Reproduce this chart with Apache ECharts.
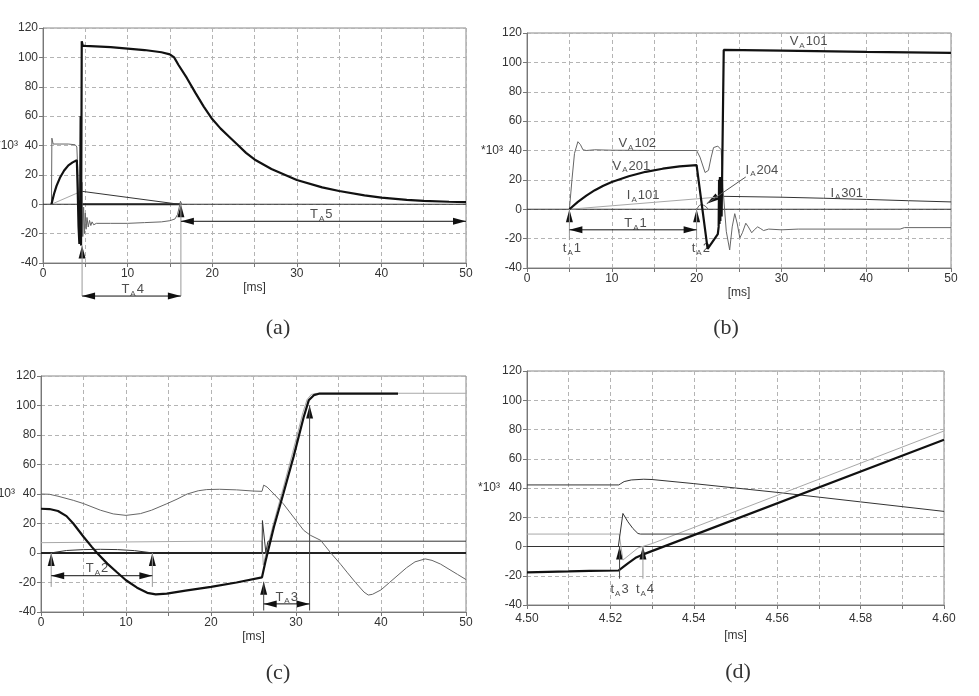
<!DOCTYPE html>
<html><head><meta charset="utf-8">
<script src="https://cdn.jsdelivr.net/npm/echarts/dist/echarts.min.js"></script>
<style>html,body{margin:0;padding:0;background:#fff}#c{width:979px;height:696px}</style>
</head><body><div id="c"></div>
<script>
// ---------- tick labels ----------
const yTicks = { min: -40, max: 120, step: 20 };
const xTicksABC = { min: 0, max: 50, step: 5, labelStep: 10 };
const xTicksD = { min: 4.50, max: 4.60, step: 0.01, labelStep: 0.02 };
const panelNames = ['(a)', '(b)', '(c)', '(d)'];
const xName = '[ms]';
const yName = '*10³';

// ---------- panel (a) ----------
const aZero = [[0,0],[50,0]];
const aZeroHeavy = [[4.6,0],[16.2,0]];
const aRamp = [[1,0],[4.4,8.5]];
const aDecline = [[4.6,8.8],[16.1,0]];
const aGray = [[1,0],[1.05,45],[1.2,41],[2,41],[3,41],[3.8,40.5],[4.0,39],[4.1,25],[4.2,0],[4.3,-25],[4.4,3],[4.5,-28],[4.6,15],[4.7,-22],[4.8,-2],[4.9,-20],[5.0,-6],[5.1,-17],[5.2,-9],[5.35,-15.5],[5.5,-11],[5.65,-14.5],[5.8,-12],[6,-14],[6.3,-13],[8,-13],[10,-13],[12,-12.5],[14,-12],[15,-11.2],[15.6,-10],[15.9,-7],[16.1,-2],[16.25,2],[16.4,0]];
const aThick = [[1,0],[1.3,7],[1.6,12.5],[2,18],[2.5,23],[3,26.5],[3.5,28.5],[4,30],[4.1,10],[4.2,-15],[4.3,-27],[4.38,-10],[4.45,60],[4.5,-28],[4.58,111],[4.7,108],[5,107.8],[8,107],[10,106],[12,105],[14,103.5],[15,102],[15.5,100],[16,95],[17,86],[18,76],[19,66.5],[20,58],[21,51.5],[22,46],[23,40.5],[24,35],[25,30.5],[27,24],[30,16.5],[33,11.5],[35,9],[38,6],[40,4.5],[43,3],[45,2.3],[48,1.7],[50,1.5]];
const aArrows = [ // [x1,y1,x2,y2,kind]
  [4.62,-62.5,4.62,-28,'ref'],[16.3,-62.5,16.3,0,'ref'],
  [4.62,-62.5,16.3,-62.5,'dim'],[16.3,-11.6,50,-11.6,'dim']
];
const aLabels = [[10.6,-58.2,'T|A|4'],[32.9,-7,'T|A|5']];

// ---------- panel (b) ----------
const bZero = [[0,0],[50,0]];
const bV201 = [[5,0],[6,5],[7,9.3],[8,13],[9,16],[10,18.5],[12,22.5],[14,25.5],[16,27.6],[18,29.2],[20,30],[20.2,29.5],[21.3,-27],[22.5,-17],[22.6,-12],[22.65,20],[22.7,-10],[22.75,22],[22.8,-8],[22.85,15],[22.95,-5],[23.2,108.5],[30,108],[40,107.2],[50,106.5]];
const bV102 = [[5,0],[5.3,20],[5.6,38],[6,46],[6.3,44],[6.6,40.5],[7,40],[8,40.5],[10,40.2],[15,40],[20,40],[20.4,35.5],[21.0,25],[21.4,26.5],[21.7,35],[22,42],[22.5,43],[22.9,40.5],[23.1,15],[23.5,-15],[23.9,-27.7],[24.2,-12],[24.5,-3],[24.8,-10],[25.1,-19.5],[25.4,-16],[25.8,-9.5],[26.1,-12],[26.5,-16],[26.8,-14],[27.2,-12],[27.5,-13],[27.9,-14.5],[28.5,-13.5],[30,-14],[32,-13.5],[40,-13.5],[44,-13.5],[44.5,-12.5],[50,-12.5]];
const bI101 = [[5,0],[22.8,8.4]];
const bI301 = [[23,8.8],[30,8.2],[35,7.5],[40,6.7],[45,5.8],[50,5]];
const bI204 = [[20,0],[20.3,2.5],[20.6,3.4],[21,2.2],[21.4,0]];
const bArrows = [
  [5,-21,5,0,'ref'],[20,-21,20,0,'ref'],[5,-14,20,-14,'dim'],[25.8,22,21.2,3.8,'lead']
];
const bLabels = [[33.2,114,'V|A|101'],[13,44.8,'V|A|102'],[12.3,29.3,'V|A|201'],[13.7,9.3,'I|A|101'],[27.7,26.6,'I|A|204'],[37.7,11,'I|A|301'],[12.8,-9.8,'T|A|1'],[5.3,-27,'t|A|1'],[20.5,-27,'t|A|2']];

// ---------- panel (c) ----------
const cZero = [[0,0],[50,0]];
const cHump = [[1.1,0],[3,1.7],[5,2.3],[7,2.5],[9,2.3],[11,1.6],[13.2,0]];
const cLight = [[0,7],[10,7.5],[20,8],[26,8],[26.15,-8],[26.4,-2],[27.3,19],[28.4,42],[29.6,68],[30.8,95],[31.3,104],[31.8,107.5],[32.5,108.3],[50,108.3]];
const cSpike = [[26,0],[26.05,22],[26.45,0.5],[26.7,8],[50,8]];
const cThin = [[0,40],[1,39.8],[2,38.5],[3.8,35.7],[5,33.5],[7,29],[8.5,26.5],[10,25.5],[11.7,26.7],[13,29],[14.8,33.4],[16,36.5],[17.2,40],[18.5,42.2],[19.5,43],[21,43.2],[23,42.8],[25,42],[26,41.8],[26.2,46],[26.6,44.7],[27.4,40],[28.5,33.4],[29.7,24.4],[30.9,15.4],[31.7,12],[32.9,8.6],[34.1,0],[35.3,-8],[36,-13],[37,-20],[38,-26.5],[38.5,-28.5],[39,-28],[40,-25],[41,-20],[42,-15],[43,-10],[44,-6],[45.2,-4],[46,-5],[47,-7.5],[48,-11],[49,-14.5],[50,-18]];
const cThick = [[0,30],[1,29.8],[2,28.5],[3,25],[3.8,20],[5,11],[6,4],[6.6,0],[7.8,-7.2],[8.9,-12.9],[10,-18.5],[11.3,-23.5],[12.5,-27],[13.5,-28],[14.8,-27.6],[17,-25.5],[20,-23],[23,-20],[26,-16.5],[26.1,-16.3],[26.4,-6],[27.4,17.6],[28.5,40],[29.7,65],[30.9,92],[31.5,103.5],[32.1,107],[32.7,108],[42,108]];
const cArrows = [
  [1.2,-23,1.2,0,'ref'],[13.1,-23,13.1,0,'ref'],[1.2,-15.4,13.1,-15.4,'dim'],
  [26.2,-39,26.2,-19.5,'refDark'],[31.6,-39,31.6,100,'refDark'],[26.2,-34.5,31.6,-34.5,'dim']
];
const cLabels = [[6.6,-10.6,'T|A|2'],[28.9,-30,'T|A|3']];

// ---------- panel (d) ----------
const dZero = [[4.5,0],[4.6,0]];
const dDark42 = [[4.5,42.1],[4.522,42.1],[4.5225,43],[4.5233,44.4],[4.525,45.5],[4.528,46],[4.53,45.8],[4.54,43],[4.56,37],[4.58,30.5],[4.6,24]];
const dLight = [[4.5,8.5],[4.5221,8.5],[4.523,-9.3],[4.5266,-1],[4.53,2],[4.6,79]];
const dSpike = [[4.5219,0],[4.523,22.6],[4.5242,16.9],[4.5254,12.3],[4.5266,8.9],[4.5272,8.5],[4.6,8.5]];
const dThick = [[4.5,-17.7],[4.51,-17],[4.515,-16.6],[4.522,-16.4],[4.5222,-15.7],[4.5242,-11.5],[4.5262,-7.5],[4.5274,-5.9],[4.6,73]];
const dArrows = [[4.5222,-22,4.5222,0,'refDark'],[4.5278,-22,4.5278,0,'ref']];
const dLabels = [[4.5222,-29.3,'t|A|3'],[4.5283,-29.3,'t|A|4']];

// ================= rendering =================
const FONT = '"Liberation Sans", Arial, sans-serif';
const gridBoxes = [
  {left:43, top:28, width:423, height:235},
  {left:527, top:33, width:424, height:235},
  {left:41, top:376, width:425, height:236},
  {left:527, top:371, width:417, height:234}
];
const xTickSets = [xTicksABC, xTicksABC, xTicksABC, xTicksD];
const grids = gridBoxes.map(g => Object.assign({}, g, {show:true, borderColor:'#888', borderWidth:1,
  backgroundColor:'transparent', containLabel:false, outerBoundsMode:'none'}));

function xAx(i, t, dec, margin, gap) {
  return {
    gridIndex:i, type:'value', min:t.min, max:t.max, interval:t.step,
    name:xName, nameLocation:'middle', nameGap:gap, nameMoveOverlap:false,
    nameTextStyle:{fontFamily:FONT, fontSize:12, color:'#333'},
    axisLine:{onZero:false, lineStyle:{color:'#777'}},
    axisTick:{show:true, inside:false, length:4, lineStyle:{color:'#777'}},
    axisLabel:{margin, fontFamily:FONT, fontSize:12, color:'#333',
      formatter: v => { const k = Math.round(v / t.step); const r = Math.round(t.labelStep / t.step);
        return k % r === 0 ? (dec ? v.toFixed(dec) : String(Math.round(v))) : ''; }},
    splitLine:{show:true, lineStyle:{type:[4,3], color:'#b4b4b4', width:1}}
  };
}
function yAx(i, gap) {
  return {
    gridIndex:i, type:'value', min:yTicks.min, max:yTicks.max, interval:yTicks.step,
    name:yName, nameLocation:'middle', nameRotate:0, nameGap:gap, nameMoveOverlap:false,
    nameTextStyle:{fontFamily:FONT, fontSize:12, color:'#333'},
    axisLine:{onZero:false, lineStyle:{color:'#777'}},
    axisTick:{show:true, inside:false, length:4, lineStyle:{color:'#777'}},
    axisLabel:{margin:5, fontFamily:FONT, fontSize:12, color:'#333'},
    splitLine:{show:true, lineStyle:{type:[4,3], color:'#b4b4b4', width:1}}
  };
}

const STY = {
  thick:{color:'#111', width:2.2}, heavyZero:{color:'#222', width:2},
  dark:{color:'#333', width:1}, gray:{color:'#666', width:1}, light:{color:'#a8a8a8', width:1},
  arrow:{color:'#111', width:1}, refLine:{color:'#9a9a9a', width:1}, refDark:{color:'#444', width:1}, lead:{color:'#555', width:1}
};
function ln(gi, data, s, noClip) {
  const st = STY[s];
  return {type:'line', xAxisIndex:gi, yAxisIndex:gi, data, showSymbol:false, symbol:'none', clip:!noClip,
    lineStyle:{color:st.color, width:st.width}, itemStyle:{color:st.color}, silent:true, animation:false};
}
const HEAD = 'path://M5,0L10,26L0,26Z';
const HEAD_W = 7, HEAD_L = 13;
function headItem(gi, from, to) {
  const g = gridBoxes[gi], t = xTickSets[gi];
  const sx = g.width / (t.max - t.min), sy = g.height / (yTicks.max - yTicks.min);
  let dx = (to[0] - from[0]) * sx, dy = -(to[1] - from[1]) * sy;
  const L = Math.hypot(dx, dy) || 1; dx /= L; dy /= L;
  const rot = Math.atan2(-dx, -dy) * 180 / Math.PI;
  return {value:[to[0], to[1]], symbol:HEAD, symbolSize:[HEAD_W, HEAD_L], symbolRotate:rot,
    symbolOffset:[-dx * HEAD_L / 2, -dy * HEAD_L / 2]};
}
function arrowSeries(gi, arr) {
  const out = [], heads = [];
  arr.forEach(a => {
    const [x1,y1,x2,y2,kind] = a;
    const p1 = [x1,y1], p2 = [x2,y2];
    const sty = kind === 'dim' ? 'arrow' : kind === 'lead' ? 'lead' : kind === 'refDark' ? 'refDark' : 'refLine';
    out.push(ln(gi, [p1, p2], sty, true));
    heads.push(headItem(gi, p1, p2));
    if (kind === 'dim') heads.push(headItem(gi, p2, p1));
  });
  out.push({type:'scatter', xAxisIndex:gi, yAxisIndex:gi, clip:false, silent:true, animation:false,
    itemStyle:{color:'#111', opacity:1}, data:heads});
  return out;
}
const rich = {
  n:{fontFamily:FONT, fontSize:13, color:'#222', lineHeight:16},
  s:{fontFamily:FONT, fontSize:8, color:'#222', lineHeight:10, verticalAlign:'bottom', padding:[0,1,0,1]}
};
function labelSeries(gi, arr) {
  return {type:'scatter', xAxisIndex:gi, yAxisIndex:gi, clip:false, silent:true, animation:false,
    symbolSize:0, itemStyle:{color:'transparent'},
    data: arr.map(l => ({value:[l[0], l[1]], name:l[2]})),
    label:{show:true, position:'inside', align:'center', verticalAlign:'middle', rich,
      formatter: p => { const [a,b,c] = p.name.split('|'); return '{n|' + a + '}{s|' + b + '}{n|' + c + '}'; }}};
}

const series = [
  ln(0,aZero,'dark'), ln(0,aZeroHeavy,'heavyZero'), ln(0,aRamp,'light'), ln(0,aDecline,'dark'), ln(0,aGray,'gray'), ln(0,aThick,'thick'),
  ...arrowSeries(0,aArrows), labelSeries(0,aLabels),
  ln(1,bZero,'dark'), ln(1,bI101,'light'), ln(1,bI301,'dark'), ln(1,bI204,'gray'), ln(1,bV102,'gray'), ln(1,bV201,'thick'),
  ...arrowSeries(1,bArrows), labelSeries(1,bLabels),
  ln(2,cZero,'heavyZero'), ln(2,cHump,'dark'), ln(2,cLight,'light'), ln(2,cSpike,'dark'), ln(2,cThin,'gray'), ln(2,cThick,'thick'),
  ...arrowSeries(2,cArrows), labelSeries(2,cLabels),
  ln(3,dZero,'dark'), ln(3,dDark42,'dark'), ln(3,dLight,'light'), ln(3,dSpike,'dark'), ln(3,dThick,'thick'),
  ...arrowSeries(3,dArrows), labelSeries(3,dLabels)
];

const panelPos = [[278,328],[726,328],[278,673],[738,672]];
const chart = echarts.init(document.getElementById('c'), null, {renderer:'canvas'});
chart.setOption({
  backgroundColor:'#fff',
  animation:false,
  grid: grids,
  xAxis: [xAx(0,xTicksABC,0,5,19), xAx(1,xTicksABC,0,5,19), xAx(2,xTicksABC,0,5,19), xAx(3,xTicksD,2,8,25)],
  yAxis: [yAx(0,25), yAx(1,24), yAx(2,26), yAx(3,27)],
  series,
  graphic: panelNames.map((t,i) => ({type:'text', x:panelPos[i][0], y:panelPos[i][1], silent:true,
    style:{text:t, font:'22px "Liberation Serif", "DejaVu Serif", serif', fill:'#333', align:'center', verticalAlign:'middle', textAlign:'center', textVerticalAlign:'middle'}}))
});
</script></body></html>
